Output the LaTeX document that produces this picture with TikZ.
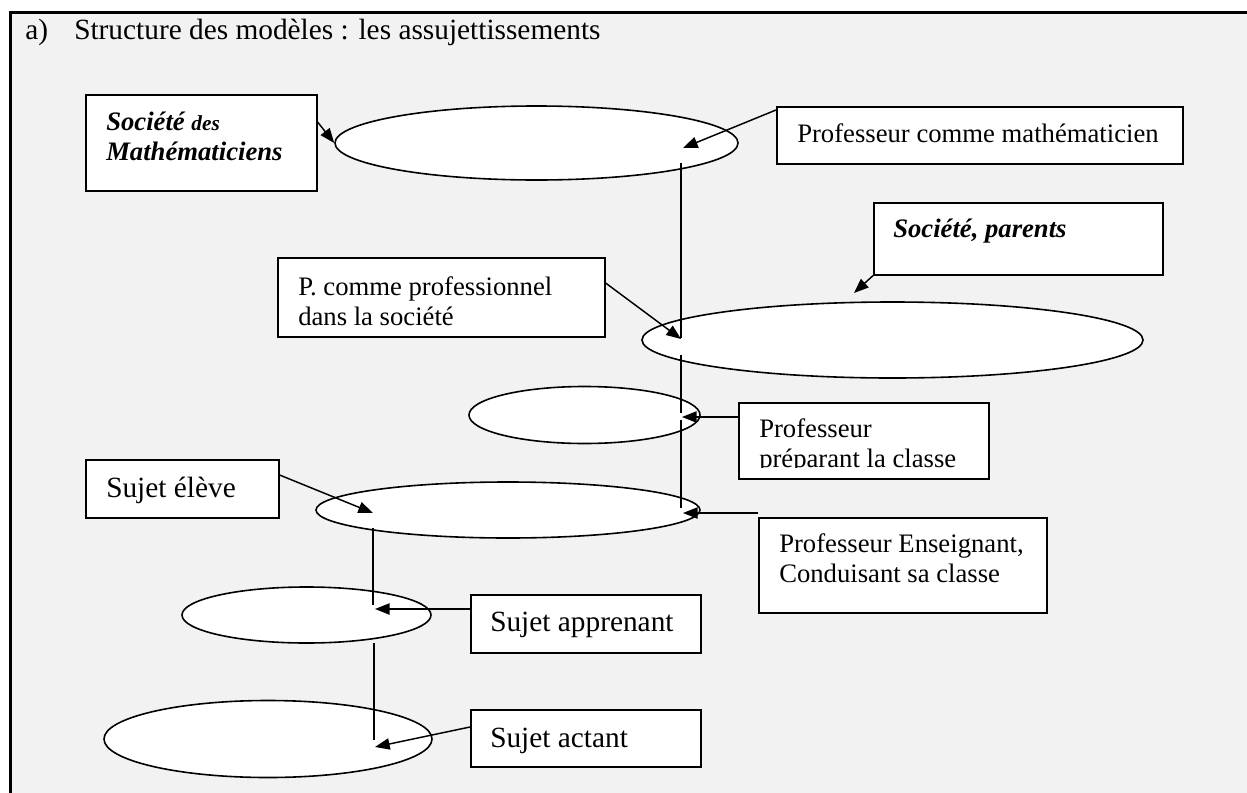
\documentclass[tikz,border=0pt]{standalone}
\usepackage{fontspec}
\setmainfont{Liberation Serif}
\usetikzlibrary{shapes.geometric,arrows.meta}
\newdimen\pxu \pxu=0.75pt
\definecolor{bggray}{HTML}{F2F2F2}
\tikzset{
  boxst/.style={draw=black, fill=white, line width=1.2pt, rectangle, inner sep=0pt, anchor=north west},
  ellst/.style={draw=black, fill=white, line width=1.2pt, ellipse, inner sep=0pt},
  txt/.style={anchor=base west, inner sep=0pt, align=left, font=\fontsize{20}{22.5}\selectfont},
  bigtxt/.style={txt, font=\fontsize{22}{25}\selectfont},
  btxt/.style={txt, font=\fontsize{20}{22.5}\selectfont\bfseries\itshape},
  arr/.style={line width=1.1pt, -{Triangle[length=11pt,width=8.5pt]}},
  vline/.style={line width=1.1pt},
}
\begin{document}
\begin{tikzpicture}[x=0.75pt,y=-0.75pt]
\useasboundingbox (0,0) rectangle (1247,793);
\fill[white] (0,0) rectangle (1247,793);
\fill[bggray] (10,12.7) rectangle (1247,793);
\draw[line width=2.25pt] (10,793) -- (10,12.7) -- (1247,12.7);

% title
\node[bigtxt] (ta) at (25,39) {a)};
\node[bigtxt] (title) at (74,39) {Structure des modèles : les assujettissements};

% ellipses
\node[ellst, minimum width=403\pxu, minimum height=74\pxu] (e1) at (536.5,143) {};
\node[ellst, minimum width=501\pxu, minimum height=76\pxu] (e2) at (892.5,340) {};
\node[ellst, minimum width=231\pxu, minimum height=57\pxu] (e3) at (584.5,415) {};
\node[ellst, minimum width=384\pxu, minimum height=56\pxu] (e4) at (508,510) {};
\node[ellst, minimum width=249\pxu, minimum height=56\pxu] (e5) at (306.5,615) {};
\node[ellst, minimum width=328\pxu, minimum height=77\pxu] (e6) at (268,739) {};

% boxes
\node[boxst, minimum width=231\pxu, minimum height=96\pxu] (bsm) at (85,94) {};
\node[btxt] (bsmt1) at (106,130) {Société {\fontsize{16}{18}\selectfont des}};
\node[btxt] (bsmt2) at (106,160) {Mathématiciens};

\node[boxst, minimum width=406\pxu, minimum height=57\pxu] (bpm) at (776,106) {};
\node[txt] (bpmt) at (797,142) {Professeur comme mathématicien};

\node[boxst, minimum width=289\pxu, minimum height=72\pxu] (bsp) at (873,202) {};
\node[btxt] (bspt) at (893,237) {Société, parents};

\node[boxst, minimum width=327\pxu, minimum height=79\pxu] (bpp) at (277,257) {};
\node[txt] (bppt) at (298,325) {P. comme professionnel\\dans la société};

\node[boxst, minimum width=250\pxu, minimum height=76\pxu] (bprep) at (738,402) {};
\begin{scope}
\clip (740,404) rectangle (986,467.5);
\node[txt] (bprept) at (759,467) {Professeur\\préparant la classe};
\end{scope}

\node[boxst, minimum width=193\pxu, minimum height=58\pxu] (bse) at (85,459) {};
\node[bigtxt] (bset) at (106,497) {Sujet élève};

\node[boxst, minimum width=288\pxu, minimum height=95\pxu] (ben) at (758,517) {};
\node[txt] (bent) at (779,582) {Professeur Enseignant,\\Conduisant sa classe};

\node[boxst, minimum width=230\pxu, minimum height=58\pxu] (bsa) at (470,594) {};
\node[bigtxt] (bsat) at (490,631) {Sujet apprenant};

\node[boxst, minimum width=230\pxu, minimum height=57\pxu] (bac) at (470,709) {};
\node[bigtxt] (bact) at (490,747) {Sujet actant};

% coordinates
\coordinate (t1) at (683,148);
\coordinate (v1a) at (681,163);
\coordinate (v1b) at (681,338);
\coordinate (t2) at (854,293);
\coordinate (t3) at (681,339);
\coordinate (v2a) at (681,355);
\coordinate (v2b) at (681,413);
\coordinate (t4) at (682,417);
\coordinate (v3a) at (681,420);
\coordinate (v3b) at (681,508);
\coordinate (t5) at (683,513);
\coordinate (t6) at (373,513);
\coordinate (v4a) at (373,528);
\coordinate (v4b) at (373,605);
\coordinate (t7) at (375,609);
\coordinate (v5a) at (374,643);
\coordinate (v5b) at (374,740);
\coordinate (t8) at (375,747);

% connectors
\draw[arr] ([yshift=-21pt]bsm.north east) -- (e1.west);
\draw[arr] ([yshift=-3pt]bpm.north west) -- (t1);
\draw[vline] (v1a) -- (v1b);
\draw[arr] (bsp.south west) -- (t2);
\draw[arr] ([yshift=-19.5pt]bpp.north east) -- (t3);
\draw[vline] (v2a) -- (v2b);
\draw[arr] ([yshift=-11.25pt]bprep.north west) -- (t4);
\draw[vline] (v3a) -- (v3b);
\draw[arr] ([yshift=3pt]ben.north west) -- (t5);
\draw[arr] ([yshift=-12pt]bse.north east) -- (t6);
\draw[vline] (v4a) -- (v4b);
\draw[arr] ([yshift=-11.25pt]bsa.north west) -- (t7);
\draw[vline] (v5a) -- (v5b);
\draw[arr] ([yshift=-13.5pt]bac.north west) -- (t8);
\end{tikzpicture}
\end{document}
